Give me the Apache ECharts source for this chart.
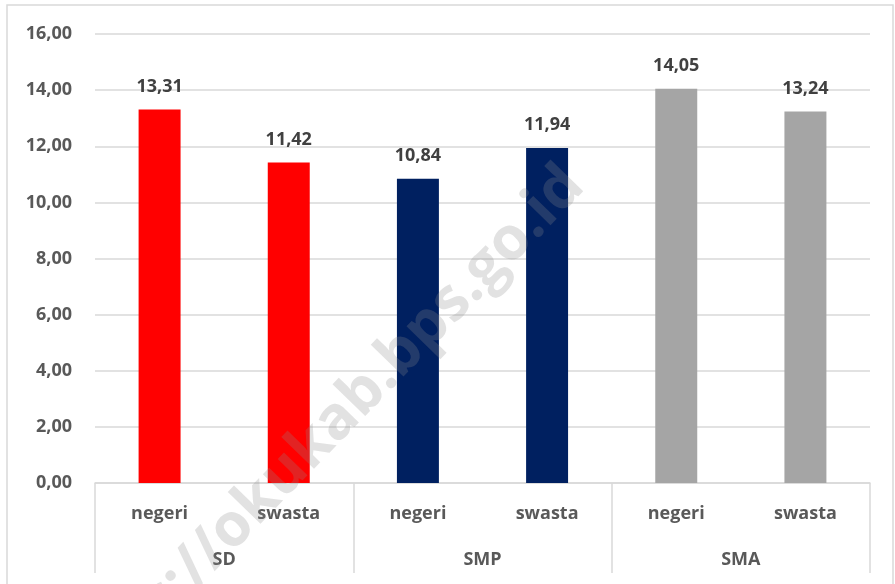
<!DOCTYPE html>
<html><head><meta charset="utf-8">
<script src="https://cdn.jsdelivr.net/npm/echarts@6/dist/echarts.min.js"></script>
<style>html,body{margin:0;padding:0;background:#fff}#c{width:895px;height:584px}</style>
</head><body><div id="c"></div>
<script>
var subCategories = ['negeri','swasta','negeri','swasta','negeri','swasta'];
var groups = ['SD','SMP','SMA'];
var values = [13.31, 11.42, 10.84, 11.94, 14.05, 13.24];
var groupColors = ['#ff0000','#002060','#a5a5a5'];
var yTicks = {min:0, max:16, interval:2};

var FONT = '"Open Sans", "Noto Sans", sans-serif';
function fmt(v){ return v.toFixed(2).replace('.', ','); }

var chart = echarts.init(document.getElementById('c'));
chart.setOption({
  animation:false,
  backgroundColor:'#fff',
  grid:{left:95, right:25, top:34, bottom:101},
  xAxis:[{
    type:'category', data:subCategories, position:'bottom',
    axisLine:{show:true, lineStyle:{color:'#d9d9d9', width:1.5}},
    axisTick:{show:false},
    axisLabel:{margin:22, color:'#595959', fontFamily:FONT, fontWeight:'bold', fontSize:18}
  },{
    type:'category', data:groups, position:'bottom',
    axisLine:{show:false},
    axisTick:{show:true, length:90, lineStyle:{color:'#d9d9d9', width:1.5}},
    axisLabel:{margin:68, color:'#595959', fontFamily:FONT, fontWeight:'bold', fontSize:18}
  }],
  yAxis:{
    type:'value', min:yTicks.min, max:yTicks.max, interval:yTicks.interval,
    axisLine:{show:false}, axisTick:{show:false},
    splitLine:{lineStyle:{color:'#d9d9d9', width:1.5}},
    axisLabel:{margin:23, color:'#595959', fontFamily:FONT, fontWeight:'bold', fontSize:18, formatter:fmt}
  },
  series:[{
    type:'bar', xAxisIndex:0, barWidth:'32.5%',
    data: values.map(function(v,i){ return {value:v, itemStyle:{color:groupColors[Math.floor(i/2)]}}; }),
    label:{show:true, position:'top', distance:14, color:'#404040', fontFamily:FONT, fontWeight:'bold', fontSize:18,
      formatter:function(p){ return fmt(p.value); }}
  }],
  graphic:[
    {type:'rect', shape:{x:7, y:5, width:886, height:590}, style:{fill:'none', stroke:'#d9d9d9', lineWidth:1.5}, silent:true, z:-1},
    {type:'text', x:318, y:440, rotation:0.8, z:100, silent:true,
      style:{text:'https://okukab.bps.go.id', fill:'rgba(140,140,140,0.25)', font:'bold 60px "Open Sans", sans-serif', align:'center', verticalAlign:'middle'}}
  ]
});
</script></body></html>
